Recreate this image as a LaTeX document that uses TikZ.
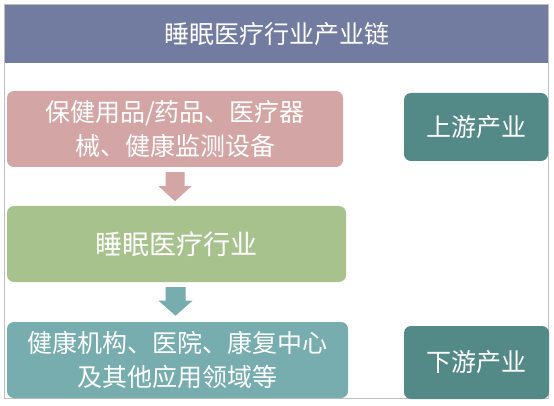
\documentclass[tikz,border=0pt]{standalone}
\usepackage{fontspec}
\newfontfamily\cjk{Noto Sans CJK SC}
\usetikzlibrary{calc}
\definecolor{headc}{HTML}{727CA0}
\definecolor{pinkc}{HTML}{D4A5A5}
\definecolor{greenc}{HTML}{A8C28E}
\definecolor{tealc}{HTML}{77ADAE}
\definecolor{darkc}{HTML}{538A88}
\definecolor{framec}{HTML}{BFBFBF}
\tikzset{
  box/.style={rectangle, rounded corners=7pt, draw=none, text=white, align=center, inner sep=0pt,
    font=\cjk\fontsize{25}{34}\selectfont},
  headbox/.style={rectangle, fill=headc, draw=none, text=white, inner sep=0pt,
    font=\cjk\fontsize{25}{30}\selectfont},
  frameline/.style={draw=framec, line width=1.3pt},
}
\begin{document}
\begin{tikzpicture}[x=1pt,y=-1pt]
\useasboundingbox (0,0) rectangle (554,406);
\fill[white] (0,0) rectangle (554,406);
\draw[frameline] (4.5,4.5) rectangle (548.5,398.5);
\node[headbox, minimum width=543pt, minimum height=58pt] (title) at (276.5,34) {睡眠医疗行业产业链};
\node[box, fill=pinkc, minimum width=336pt, minimum height=76pt] (up) at (175,129)
  {保健用品/药品、医疗器\\械、健康监测设备};
\node[box, fill=greenc, minimum width=339pt, minimum height=76pt, font=\cjk\fontsize{27}{34}\selectfont] (mid) at (176.5,244) {睡眠医疗行业};
\node[box, fill=tealc, minimum width=341pt, minimum height=76pt] (down) at (177.5,360)
  {健康机构、医院、康复中心\\及其他应用领域等};
\node[box, fill=darkc, minimum width=144pt, minimum height=68pt] (upl) at (476,127) {上游产业};
\node[box, fill=darkc, minimum width=145pt, minimum height=73pt] (downl) at (476.5,362.5) {下游产业};
% block arrows
\fill[pinkc] ($(up.south)+(-9.5,5)$) -- ++(19,0) -- ++(0,14) -- ++(7,0) -- ++(-16.5,15) -- ++(-16.5,-15) -- ++(7,0) -- cycle;
\fill[tealc] ($(mid.south)+(-11,5)$) -- ++(20,0) -- ++(0,13.5) -- ++(7,0) -- ++(-17,15) -- ++(-17,-15) -- ++(7,0) -- cycle;
\end{tikzpicture}
\end{document}
